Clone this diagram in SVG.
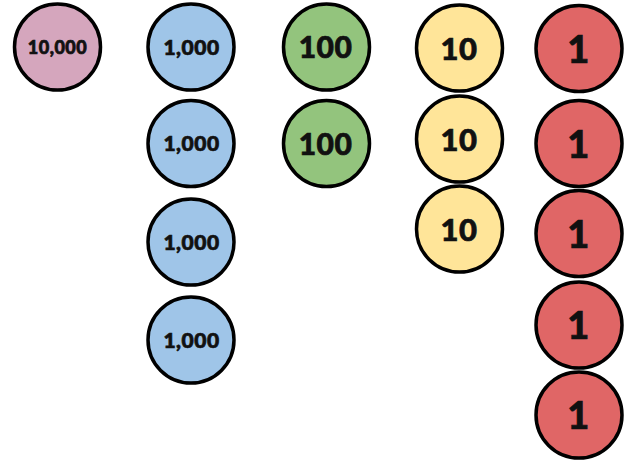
<svg xmlns="http://www.w3.org/2000/svg" width="640" height="469" viewBox="0 0 640 469">
<style>
circle{stroke:#000;stroke-width:3.5}
text{font-family:Lato,"Open Sans","DejaVu Sans",sans-serif;font-weight:900;text-anchor:middle;fill:#111;stroke:#111;stroke-width:0.7;letter-spacing:0.5px}
.p{fill:#D5A6BD}.b{fill:#9FC5E8}.g{fill:#93C47D}.y{fill:#FFE599}.r{fill:#E06666}
.t5{font-size:18px}.t4{font-size:21px}.t3{font-size:30px}.t2{font-size:31px}.t1{font-size:38px}
</style>
<rect width="640" height="469" fill="#fff"/>
<g id="connectors"/>
<g id="n10000"><circle class="p" cx="57.5" cy="47" r="43"/><text class="t5" x="57.5" y="53.5">10,000</text></g>
<g id="n1000a"><circle class="b" cx="191" cy="47" r="43"/><text class="t4" x="191.5" y="54.5">1,000</text></g>
<g id="n1000b"><circle class="b" cx="191" cy="143.5" r="43"/><text class="t4" x="191.5" y="151">1,000</text></g>
<g id="n1000c"><circle class="b" cx="191" cy="242" r="43"/><text class="t4" x="191.5" y="249.5">1,000</text></g>
<g id="n1000d"><circle class="b" cx="191" cy="340" r="43"/><text class="t4" x="191.5" y="347.5">1,000</text></g>
<g id="n100a"><circle class="g" cx="326.5" cy="47" r="43"/><text class="t3" x="325.5" y="58">100</text></g>
<g id="n100b"><circle class="g" cx="326.5" cy="143.5" r="43"/><text class="t3" x="325.5" y="154.5">100</text></g>
<g id="n10a"><circle class="y" cx="459.5" cy="48" r="43"/><text class="t2" x="459" y="59.5">10</text></g>
<g id="n10b"><circle class="y" cx="459.5" cy="139" r="43"/><text class="t2" x="459" y="150.5">10</text></g>
<g id="n10c"><circle class="y" cx="459.5" cy="229" r="43"/><text class="t2" x="459" y="240.5">10</text></g>
<g id="n1a"><circle class="r" cx="579" cy="48.5" r="43"/><text class="t1" x="578.5" y="62.5">1</text></g>
<g id="n1b"><circle class="r" cx="579" cy="143.5" r="43"/><text class="t1" x="578.5" y="157.5">1</text></g>
<g id="n1c"><circle class="r" cx="579" cy="233.5" r="43"/><text class="t1" x="578.5" y="247.5">1</text></g>
<g id="n1d"><circle class="r" cx="579" cy="325" r="43"/><text class="t1" x="578.5" y="339">1</text></g>
<g id="n1e"><circle class="r" cx="579" cy="415" r="43"/><text class="t1" x="578.5" y="429">1</text></g>
</svg>
